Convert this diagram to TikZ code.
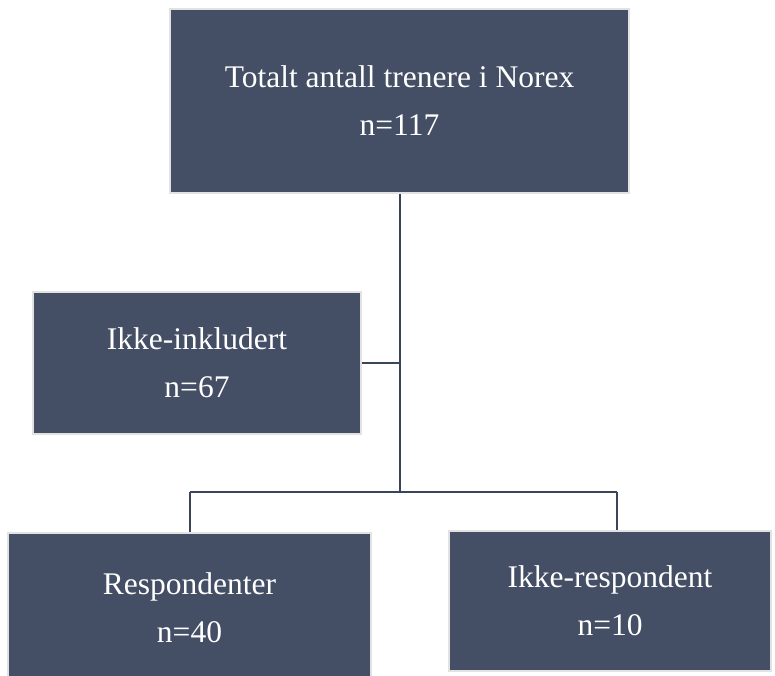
\documentclass[tikz,border=0pt]{standalone}
\usepackage{fontspec}
\setmainfont{Liberation Serif}
\usepackage{tikz}

\definecolor{boxblue}{HTML}{444F65}
\definecolor{boxedge}{HTML}{E2E2E2}
\definecolor{linecol}{HTML}{3A4558}

\tikzset{
	flowbox/.style={rectangle, fill=boxblue, draw=boxedge, line width=1.5pt,
		text=white, align=center, inner sep=0pt,
		font=\fontsize{31.5}{48}\selectfont},
	link/.style={draw=linecol, line width=2pt}
}

\begin{document}
\begin{tikzpicture}[x=1pt,y=-1pt]
	\useasboundingbox (0,0) rectangle (775,675);

	\node[flowbox, minimum width=459pt, minimum height=184pt] (total) at (399.5,101) {Totalt antall trenere i Norex\\n=117};
	\node[flowbox, minimum width=328pt, minimum height=142pt] (ikke) at (197,363) {Ikke-inkludert\\n=67};
	\node[flowbox, minimum width=363pt, minimum height=150pt] (resp) at (189.5,608) {Respondenter\\n=40};
	\node[flowbox, minimum width=322pt, minimum height=140pt] (irs) at (610,601) {Ikke-respondent\\n=10};

	% connectors
	\coordinate (split) at (400,492);
	\coordinate (jl) at (190,492);
	\coordinate (jr) at (617,492);
	\draw[link] (total.south -| split) -- (split);
	\draw[link] (ikke.east) -- (ikke.east -| split);
	\draw[link] (jl) -- (jr);
	\draw[link] (jl) -- (jl |- resp.north);
	\draw[link] (jr) -- (jr |- irs.north);
\end{tikzpicture}
\end{document}
